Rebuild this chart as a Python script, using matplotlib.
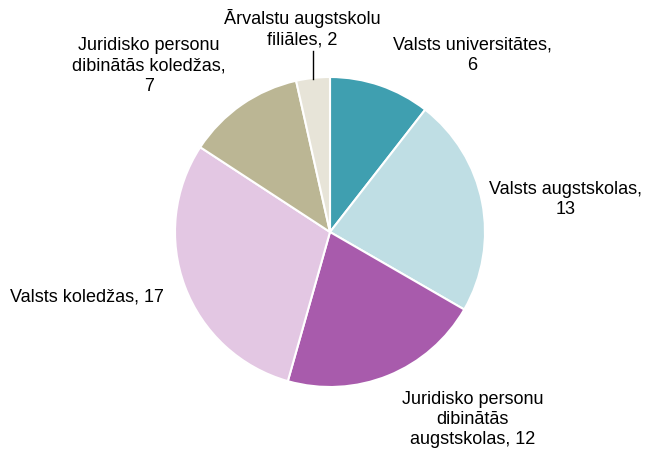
import matplotlib.pyplot as plt

plt.rcParams['font.family'] = ['Liberation Sans', 'DejaVu Sans']

labels = ['Valsts universitātes,\n6',
          'Valsts augstskolas,\n13',
          'Juridisko personu\ndibinātās\naugstskolas, 12',
          'Valsts koledžas, 17',
          'Juridisko personu\ndibinātās koledžas,\n7',
          'Ārvalstu augstskolu\nfiliāles, 2']
values = [6, 13, 12, 17, 7, 2]
colors = ['#3F9FB0', '#BFDEE4', '#A85BAC', '#E3C7E3', '#BBB694', '#E7E4D8']

# label centres (in pie radius units)
label_pos = [(0.92, 1.14), (1.52, 0.21), (0.92, -1.21),
             (-1.57, -0.42), (-1.17, 1.07), (-0.18, 1.31)]

fig = plt.figure(figsize=(6.63, 4.5), dpi=100)
cx, cy, r = 330, 232, 155
ax = fig.add_axes([(cx - r) / 663, (450 - cy - r) / 450, 2 * r / 663, 2 * r / 450])

wedges, _ = ax.pie(values, colors=colors, startangle=90, counterclock=False,
                   radius=1, wedgeprops=dict(edgecolor='white', linewidth=1.5))
ax.set_xlim(-1, 1)
ax.set_ylim(-1, 1)
ax.set_aspect('equal')
ax.axis('off')

for lab, (x, y) in zip(labels, label_pos):
    ax.text(x, y, lab, ha='center', va='center', fontsize=13,
            color='black', linespacing=1.25, clip_on=False)

# leader line for the small slice
ax.plot([-0.11, -0.11], [1.165, 0.99], color='black', lw=1, clip_on=False)

fig.savefig('out.png', dpi=100)
